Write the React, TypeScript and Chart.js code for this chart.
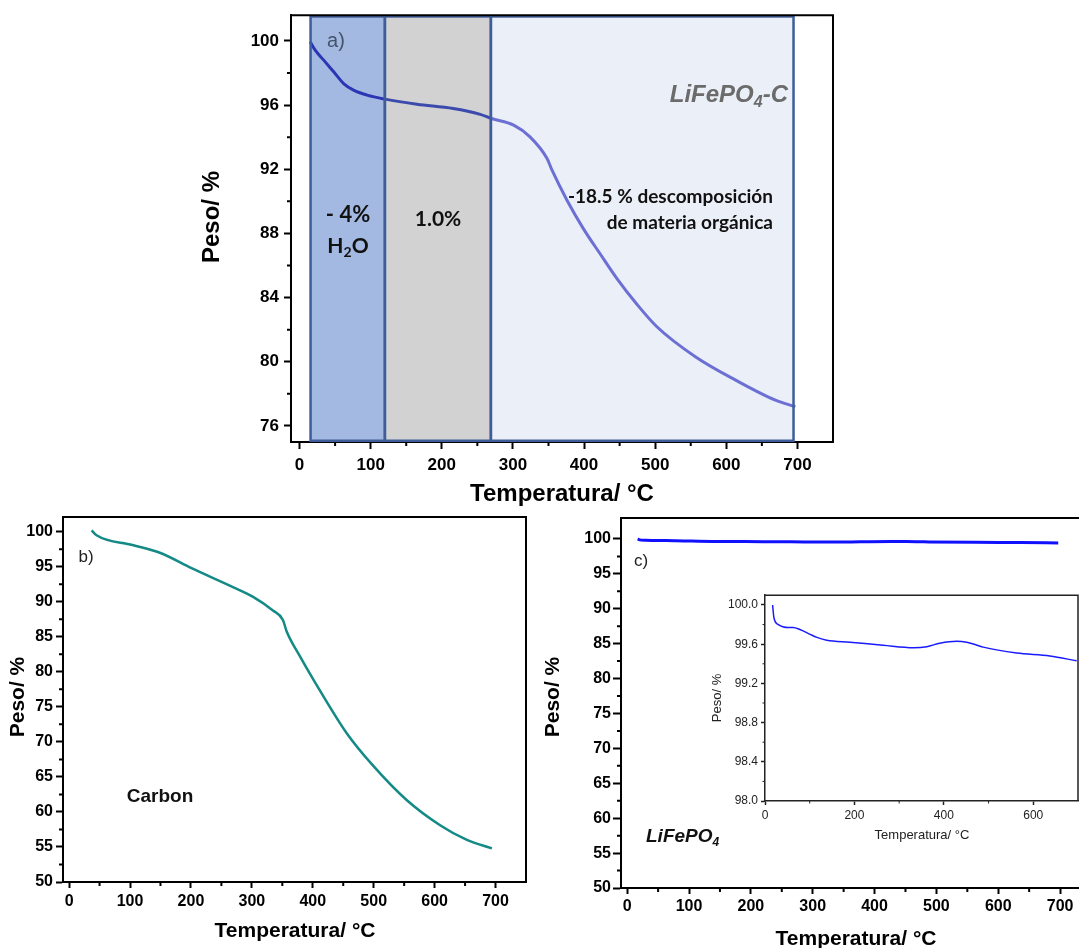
import React, { useEffect, useRef } from 'react';
import { Chart, registerables } from 'chart.js';

Chart.register(...registerables);

// ---------- DATA ----------
// Panel a) LiFePO4-C
const tempA = [15, 22, 34, 48, 62, 76, 95, 120, 165, 216, 254, 270, 301, 324, 348, 355, 376, 399, 423, 446, 474, 502, 557, 613, 669, 697];
const weightA = [99.94, 99.42, 98.8, 98.07, 97.34, 96.93, 96.62, 96.37, 96.05, 95.79, 95.42, 95.16, 94.75, 94.02, 92.67, 91.94, 90.07, 88.3, 86.7, 85.2, 83.6, 82.2, 80.3, 78.86, 77.61, 77.2];
const regionBoundsA = [15.5, 120, 269, 694.5];

// Panel b) Carbon
const tempB = [37, 45, 104, 149, 201, 269, 302, 334, 351, 357, 379, 401, 456, 499, 554, 609, 653, 694];
const weightB = [100.2, 99.5, 98.1, 97.0, 94.8, 92.1, 90.7, 88.8, 87.4, 85.8, 82.2, 78.9, 71.2, 66.6, 61.7, 58.1, 56.0, 54.8];

// Panel c) LiFePO4 (main + inset)
const tempC = [17, 20, 30, 52, 63, 78, 101, 116, 138, 190, 264, 332, 362, 391, 429, 451, 474, 488, 563, 637, 697];
const weightC = [100.0, 99.87, 99.8, 99.77, 99.77, 99.75, 99.7, 99.67, 99.64, 99.62, 99.59, 99.565, 99.575, 99.61, 99.63, 99.62, 99.59, 99.57, 99.51, 99.48, 99.43];

// Tick labels
const xTicksMain = [0, 100, 200, 300, 400, 500, 600, 700];
const xMinorMain = [50, 150, 250, 350, 450, 550, 650];
const yTicksA = [76, 80, 84, 88, 92, 96, 100];
const yMinorA = [78, 82, 86, 90, 94, 98];
const yTicksBC = [50, 55, 60, 65, 70, 75, 80, 85, 90, 95, 100];
const yMinorBC = [52.5, 57.5, 62.5, 67.5, 72.5, 77.5, 82.5, 87.5, 92.5, 97.5];
const xTicksInset = [0, 200, 400, 600];
const xMinorInset = [100, 300, 500];
const yTicksInset = [98.0, 98.4, 98.8, 99.2, 99.6, 100.0];
const yMinorInset = [98.2, 98.6, 99.0, 99.4, 99.8];

// ---------- HELPERS ----------
const ARIAL = '"Liberation Sans", Arial, sans-serif';
const LATO = 'Lato, "Open Sans", sans-serif';

type Box = { left: number; top: number; width: number; height: number };
type Area = { left: number; top: number; right: number; bottom: number };
type Part = { t: string; sub?: boolean };
type TextItem = {
  parts: Part[]; x: number; y: number; size: number; family: string;
  weight?: string; style?: string; color: string; align?: 'left' | 'center' | 'right'; rotate?: number;
};

function drawText(ctx: CanvasRenderingContext2D, item: TextItem, ox: number, oy: number) {
  ctx.save();
  ctx.translate(item.x - ox, item.y - oy);
  if (item.rotate) ctx.rotate(item.rotate);
  const subSize = Math.round(item.size * 0.65);
  const font = (s: number) => `${item.style || 'normal'} ${item.weight || 'normal'} ${s}px ${item.family}`;
  let total = 0;
  const widths = item.parts.map((p) => {
    ctx.font = font(p.sub ? subSize : item.size);
    const w = ctx.measureText(p.t).width;
    total += w;
    return w;
  });
  let x = item.align === 'left' ? 0 : item.align === 'right' ? -total : -total / 2;
  ctx.textBaseline = 'middle';
  ctx.textAlign = 'left';
  ctx.fillStyle = item.color;
  item.parts.forEach((p, i) => {
    ctx.font = font(p.sub ? subSize : item.size);
    ctx.fillText(p.t, x, p.sub ? item.size * 0.3 : 0);
    x += widths[i];
  });
  ctx.restore();
}

type Decor = {
  box: Box;
  frame?: { color: string; width: number };
  minorX?: number[];
  minorY?: number[];
  minorLen?: number;
  minorWidth?: number;
  minorColor?: string;
  texts?: TextItem[];
  regions?: { bounds: number[]; fills: string[]; stroke: string; strokeWidth: number };
  background?: string;
};

function decorPlugin(d: Decor) {
  return {
    id: 'decor',
    beforeDraw(chart: any) {
      if (!d.background) return;
      const a = chart.chartArea;
      const ctx = chart.ctx;
      ctx.save();
      ctx.fillStyle = d.background;
      ctx.fillRect(a.left, a.top, a.right - a.left, a.bottom - a.top);
      ctx.restore();
    },
    beforeDatasetsDraw(chart: any) {
      if (!d.regions) return;
      const a = chart.chartArea;
      const xs = chart.scales.x;
      const ctx = chart.ctx;
      ctx.save();
      const b = d.regions.bounds;
      for (let i = 0; i < b.length - 1; i++) {
        const x0 = xs.getPixelForValue(b[i]);
        const x1 = xs.getPixelForValue(b[i + 1]);
        ctx.fillStyle = d.regions.fills[i];
        ctx.fillRect(x0, a.top, x1 - x0, a.bottom - a.top);
      }
      ctx.restore();
    },
    afterDatasetsDraw(chart: any) {
      if (!d.regions) return;
      const a = chart.chartArea;
      const xs = chart.scales.x;
      const ctx = chart.ctx;
      ctx.save();
      ctx.strokeStyle = d.regions.stroke;
      ctx.lineWidth = d.regions.strokeWidth;
      const b = d.regions.bounds;
      const hw = d.regions.strokeWidth / 2;
      for (let i = 0; i < b.length - 1; i++) {
        const x0 = xs.getPixelForValue(b[i]);
        const x1 = xs.getPixelForValue(b[i + 1]);
        ctx.strokeRect(x0, a.top + hw, x1 - x0, a.bottom - a.top - 2 * hw);
      }
      ctx.restore();
    },
    afterDraw(chart: any) {
      const a = chart.chartArea;
      const ctx = chart.ctx;
      const xs = chart.scales.x;
      const ys = chart.scales.y;
      ctx.save();
      if (d.frame) {
        ctx.strokeStyle = d.frame.color;
        ctx.lineWidth = d.frame.width;
        ctx.beginPath();
        ctx.moveTo(a.left, a.top);
        ctx.lineTo(a.right, a.top);
        ctx.lineTo(a.right, a.bottom);
        ctx.stroke();
      }
      const len = d.minorLen || 4;
      ctx.strokeStyle = d.minorColor || '#000';
      ctx.lineWidth = d.minorWidth || 2;
      ctx.beginPath();
      (d.minorX || []).forEach((v) => {
        const px = xs.getPixelForValue(v);
        ctx.moveTo(px, a.bottom);
        ctx.lineTo(px, a.bottom + len);
      });
      (d.minorY || []).forEach((v) => {
        const py = ys.getPixelForValue(v);
        ctx.moveTo(a.left, py);
        ctx.lineTo(a.left - len, py);
      });
      ctx.stroke();
      ctx.restore();
      (d.texts || []).forEach((t) => drawText(ctx, t, d.box.left, d.box.top));
    },
  };
}

type AxisSpec = {
  min: number; max: number; ticks: number[]; fit: number; horizontal: boolean;
  fontSize: number; bold: boolean; color: string; tickLength: number; padding: number;
  lineWidth: number; lineColor: string; fmt?: (v: number) => string;
};

function axis(s: AxisSpec) {
  return {
    type: 'linear',
    min: s.min,
    max: s.max,
    afterBuildTicks: (sc: any) => {
      sc.ticks = s.ticks.map((v) => ({ value: v }));
    },
    afterFit: (sc: any) => {
      if (s.horizontal) sc.height = s.fit;
      else sc.width = s.fit;
    },
    grid: {
      display: true,
      drawOnChartArea: false,
      drawTicks: true,
      tickLength: s.tickLength,
      tickWidth: s.lineWidth,
      tickColor: s.lineColor,
      color: s.lineColor,
    },
    border: { display: true, color: s.lineColor, width: s.lineWidth },
    ticks: {
      autoSkip: false,
      maxRotation: 0,
      minRotation: 0,
      padding: s.padding,
      color: s.color,
      font: { family: ARIAL, size: s.fontSize, weight: s.bold ? 'bold' : 'normal' },
      callback: (v: any) => (s.fmt ? s.fmt(Number(v)) : String(v)),
    },
  };
}

function buildConfig(
  box: Box, area: Area,
  xSpec: Omit<AxisSpec, 'fit' | 'horizontal'>, ySpec: Omit<AxisSpec, 'fit' | 'horizontal'>,
  dataset: any, decor: Decor,
) {
  return {
    type: 'line',
    data: { datasets: [dataset] },
    options: {
      responsive: false,
      animation: false,
      devicePixelRatio: 1,
      layout: {
        padding: { left: 0, bottom: 0, top: area.top - box.top, right: box.left + box.width - area.right },
      },
      plugins: { legend: { display: false }, tooltip: { enabled: false }, title: { display: false } },
      scales: {
        x: axis({ ...xSpec, fit: box.top + box.height - area.bottom, horizontal: true }),
        y: axis({ ...ySpec, fit: area.left - box.left, horizontal: false }),
      },
    },
    plugins: [decorPlugin(decor)],
  } as any;
}

const pts = (xs: number[], ys: number[]) => xs.map((x, i) => ({ x, y: ys[i] }));

// ---------- LAYOUT ----------
const boxA: Box = { left: 140, top: 0, width: 720, height: 510 };
const areaA: Area = { left: 291, top: 15, right: 833, bottom: 442 };
const boxB: Box = { left: 0, top: 500, width: 540, height: 448 };
const areaB: Area = { left: 63, top: 517, right: 526, bottom: 882 };
const boxC: Box = { left: 535, top: 500, width: 560, height: 448 };
const areaC: Area = { left: 621, top: 518, right: 1091, bottom: 888 };
const boxI: Box = { left: 690, top: 585, width: 389, height: 270 };
const areaI: Area = { left: 765, top: 595, right: 1078, bottom: 801 };

const ROT = -Math.PI / 2;

function configA() {
  const common = { bold: true, color: '#000', lineWidth: 2, lineColor: '#000', fontSize: 17 };
  return buildConfig(
    boxA, areaA,
    { ...common, min: -12, max: 750, ticks: xTicksMain, tickLength: 7, padding: 6 },
    { ...common, min: 75, max: 101.6, ticks: yTicksA, tickLength: 7, padding: 5 },
    {
      data: pts(tempA, weightA),
      borderColor: '#6c70d4',
      borderWidth: 3,
      pointRadius: 0,
      cubicInterpolationMode: 'monotone',
      segment: {
        borderColor: (ctx: any) => {
          const x = ctx.p0.parsed.x;
          return x < regionBoundsA[1] ? '#2a36b4' : x < regionBoundsA[2] - 1 ? '#3c4aae' : '#6c70d4';
        },
      },
    },
    {
      box: boxA,
      frame: { color: '#000', width: 2 },
      minorX: xMinorMain,
      minorY: yMinorA,
      minorLen: 4,
      minorWidth: 2,
      regions: { bounds: regionBoundsA, fills: ['#a4b9e2', '#d2d2d2', '#ebeff8'], stroke: '#3f5d9b', strokeWidth: 2.5 },
      texts: [
        { parts: [{ t: 'Peso/ %' }], x: 212, y: 217, size: 24, family: ARIAL, weight: 'bold', color: '#000', rotate: ROT },
        { parts: [{ t: 'Temperatura/ °C' }], x: 562, y: 494, size: 24, family: ARIAL, weight: 'bold', color: '#000' },
        { parts: [{ t: 'a)' }], x: 336, y: 41, size: 20, family: ARIAL, color: '#44546a' },
        { parts: [{ t: 'LiFePO' }, { t: '4', sub: true }, { t: '-C' }], x: 788, y: 95, size: 24, family: ARIAL, weight: 'bold', style: 'italic', color: '#6b6b6b', align: 'right' },
        { parts: [{ t: '-18.5 % descomposición' }], x: 773, y: 197, size: 19, family: LATO, weight: 'bold', color: '#111', align: 'right' },
        { parts: [{ t: 'de materia orgánica' }], x: 773, y: 223, size: 19, family: LATO, weight: 'bold', color: '#111', align: 'right' },
        { parts: [{ t: '- 4%' }], x: 348, y: 215, size: 22, family: LATO, weight: 'bold', color: '#111' },
        { parts: [{ t: 'H' }, { t: '2', sub: true }, { t: 'O' }], x: 348, y: 246, size: 21, family: LATO, weight: 'bold', color: '#111' },
        { parts: [{ t: '1.0%' }], x: 438, y: 219, size: 21, family: LATO, weight: 'bold', color: '#111' },
      ],
    },
  );
}

function configB() {
  const common = { bold: true, color: '#000', lineWidth: 2, lineColor: '#000', fontSize: 16 };
  return buildConfig(
    boxB, areaB,
    { ...common, min: -10, max: 750, ticks: xTicksMain, tickLength: 6, padding: 4 },
    { ...common, min: 50, max: 102.1, ticks: yTicksBC, tickLength: 7, padding: 3 },
    {
      data: pts(tempB, weightB),
      borderColor: '#148a86',
      borderWidth: 2.5,
      pointRadius: 0,
      cubicInterpolationMode: 'monotone',
    },
    {
      box: boxB,
      frame: { color: '#000', width: 2 },
      minorX: xMinorMain,
      minorY: yMinorBC,
      minorLen: 4,
      minorWidth: 2,
      texts: [
        { parts: [{ t: 'Peso/ %' }], x: 18, y: 697, size: 21, family: ARIAL, weight: 'bold', color: '#000', rotate: ROT },
        { parts: [{ t: 'Temperatura/ °C' }], x: 295, y: 931, size: 21, family: ARIAL, weight: 'bold', color: '#000' },
        { parts: [{ t: 'b)' }], x: 86, y: 557, size: 17, family: ARIAL, color: '#222' },
        { parts: [{ t: 'Carbon' }], x: 160, y: 797, size: 19, family: ARIAL, weight: 'bold', color: '#111' },
      ],
    },
  );
}

function configC() {
  const common = { bold: true, color: '#000', lineWidth: 2, lineColor: '#000', fontSize: 16 };
  return buildConfig(
    boxC, areaC,
    { ...common, min: -10, max: 750, ticks: xTicksMain, tickLength: 6, padding: 3 },
    { ...common, min: 50, max: 103, ticks: yTicksBC, tickLength: 8, padding: 2 },
    {
      data: pts(tempC, weightC),
      borderColor: '#1010ff',
      borderWidth: 3,
      pointRadius: 0,
      cubicInterpolationMode: 'monotone',
    },
    {
      box: boxC,
      frame: { color: '#000', width: 2 },
      minorX: xMinorMain,
      minorY: yMinorBC,
      minorLen: 4,
      minorWidth: 2,
      texts: [
        { parts: [{ t: 'Peso/ %' }], x: 553, y: 697, size: 21, family: ARIAL, weight: 'bold', color: '#000', rotate: ROT },
        { parts: [{ t: 'Temperatura/ °C' }], x: 856, y: 939, size: 21, family: ARIAL, weight: 'bold', color: '#000' },
        { parts: [{ t: 'c)' }], x: 641, y: 561, size: 17, family: ARIAL, color: '#222' },
        { parts: [{ t: 'LiFePO' }, { t: '4', sub: true }], x: 646, y: 837, size: 19, family: ARIAL, weight: 'bold', style: 'italic', color: '#111', align: 'left' },
      ],
    },
  );
}

function configInset() {
  const common = { bold: false, color: '#222', lineWidth: 1.5, lineColor: '#222', fontSize: 12 };
  return buildConfig(
    boxI, areaI,
    { ...common, min: 0, max: 700, ticks: xTicksInset, tickLength: 4, padding: 3 },
    { ...common, min: 98, max: 100.1, ticks: yTicksInset, tickLength: 4, padding: 3, fmt: (v: number) => v.toFixed(1) },
    {
      data: pts(tempC, weightC),
      borderColor: '#1a1aff',
      borderWidth: 1.5,
      pointRadius: 0,
      cubicInterpolationMode: 'monotone',
    },
    {
      box: boxI,
      background: '#fff',
      frame: { color: '#222', width: 1.5 },
      minorX: xMinorInset,
      minorY: yMinorInset,
      minorLen: 2.5,
      minorWidth: 1,
      minorColor: '#222',
      texts: [
        { parts: [{ t: 'Peso/ %' }], x: 717, y: 698, size: 13, family: ARIAL, color: '#222', rotate: ROT },
        { parts: [{ t: 'Temperatura/ °C' }], x: 922, y: 835, size: 13, family: ARIAL, color: '#222' },
      ],
    },
  );
}

export default function App() {
  const refA = useRef<HTMLCanvasElement>(null);
  const refB = useRef<HTMLCanvasElement>(null);
  const refC = useRef<HTMLCanvasElement>(null);
  const refI = useRef<HTMLCanvasElement>(null);

  useEffect(() => {
    const charts: Chart[] = [];
    if (refA.current) charts.push(new Chart(refA.current, configA()));
    if (refB.current) charts.push(new Chart(refB.current, configB()));
    if (refC.current) charts.push(new Chart(refC.current, configC()));
    if (refI.current) charts.push(new Chart(refI.current, configInset()));
    return () => charts.forEach((c) => c.destroy());
  }, []);

  const place = (b: Box): React.CSSProperties => ({
    position: 'absolute', left: b.left, top: b.top, width: b.width, height: b.height,
  });

  return (
    <div style={{ position: 'absolute', left: 0, top: 0, width: 1079, height: 948, overflow: 'hidden', background: '#fff' }}>
      <canvas ref={refA} width={boxA.width} height={boxA.height} style={place(boxA)} />
      <canvas ref={refB} width={boxB.width} height={boxB.height} style={place(boxB)} />
      <canvas ref={refC} width={boxC.width} height={boxC.height} style={place(boxC)} />
      <canvas ref={refI} width={boxI.width} height={boxI.height} style={place(boxI)} />
    </div>
  );
}
